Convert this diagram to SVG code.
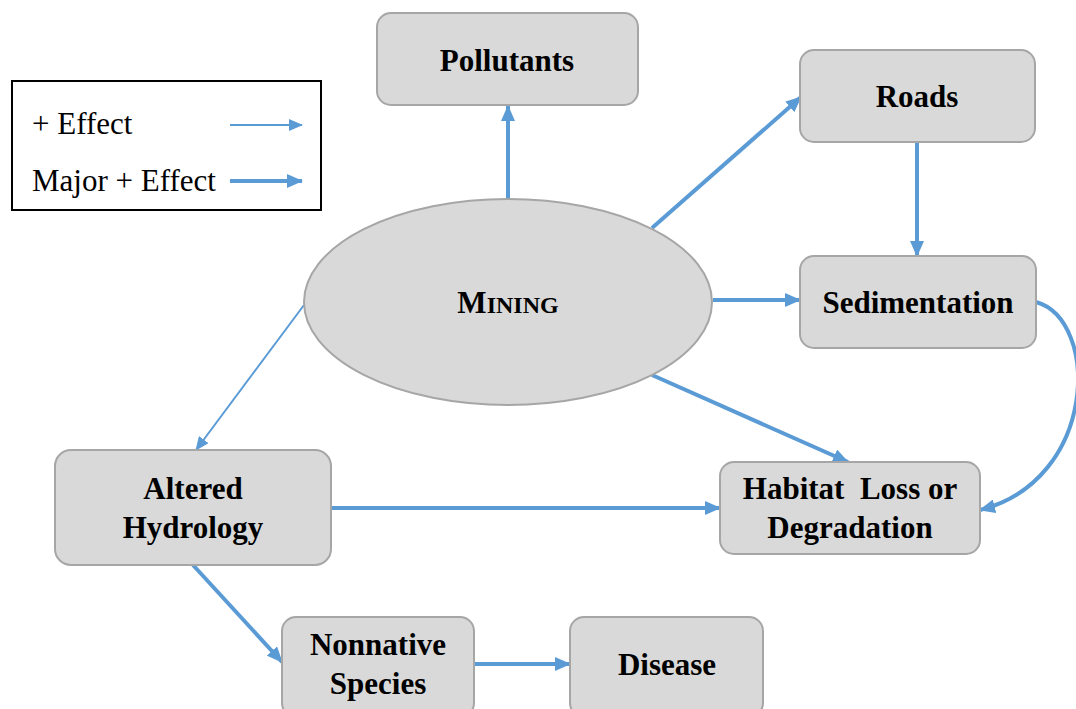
<svg xmlns="http://www.w3.org/2000/svg" width="1076" height="709" viewBox="0 0 1076 709">
  <style>
    .box { fill: #D9D9D9; stroke: #A6A6A6; stroke-width: 2; }
    .lbl { font-weight: bold; font-size: 31px; fill: #000; text-anchor: middle; }
    .leg { font-size: 31px; fill: #000; }
    .major { fill: none; stroke: #5B9BD5; stroke-width: 4; }
    .minor { fill: none; stroke: #5B9BD5; stroke-width: 2; }
  </style>
  <defs>
    <marker id="headMajor" viewBox="0 0 16 14" refX="15" refY="7" markerWidth="16" markerHeight="14" markerUnits="userSpaceOnUse" orient="auto">
      <path d="M0,0 L16,7 L0,14 Z" fill="#5B9BD5"/>
    </marker>
    <marker id="headMinor" viewBox="0 0 14 12" refX="13" refY="6" markerWidth="14" markerHeight="12" markerUnits="userSpaceOnUse" orient="auto">
      <path d="M0,0 L14,6 L0,12 Z" fill="#5B9BD5"/>
    </marker>
  </defs>

  <rect width="1076" height="709" fill="#fff"/>

  <!-- legend -->
  <g id="legend">
    <rect x="12" y="81" width="309" height="129" fill="#fff" stroke="#000" stroke-width="2"/>
    <text class="leg" font-family="Liberation Serif" x="32" y="134">+ Effect</text>
    <text class="leg" font-family="Liberation Serif" x="32" y="191">Major + Effect</text>
    <line class="minor" x1="230" y1="125" x2="302" y2="125" marker-end="url(#headMinor)"/>
    <line class="major" x1="230" y1="181" x2="302" y2="181" marker-end="url(#headMajor)"/>
  </g>

  <!-- connectors -->
  <g id="connectors">
    <line class="major" x1="508" y1="199" x2="508" y2="106" marker-end="url(#headMajor)"/>
    <line class="major" x1="652" y1="228" x2="801" y2="97" marker-end="url(#headMajor)"/>
    <line class="major" x1="917" y1="143" x2="917" y2="256" marker-end="url(#headMajor)"/>
    <line class="major" x1="713" y1="300" x2="800" y2="300" marker-end="url(#headMajor)"/>
    <line class="major" x1="652" y1="375" x2="848" y2="462" marker-end="url(#headMajor)"/>
    <line class="minor" x1="304" y1="305" x2="196" y2="450" marker-end="url(#headMinor)"/>
    <line class="major" x1="331" y1="508" x2="720" y2="508" marker-end="url(#headMajor)"/>
    <line class="major" x1="193" y1="565" x2="282" y2="662" marker-end="url(#headMajor)"/>
    <line class="major" x1="474" y1="664" x2="570" y2="664" marker-end="url(#headMajor)"/>
    <path class="major" d="M1036,302 C1100,320 1098,480 980,510" marker-end="url(#headMajor)"/>
  </g>

  <!-- nodes -->
  <g id="mining">
    <ellipse class="box" cx="508" cy="302" rx="204" ry="103"/>
    <text class="lbl" font-family="Liberation Serif" x="508" y="313">M<tspan font-size="24">INING</tspan></text>
  </g>
  <g id="pollutants">
    <rect class="box" x="377" y="13" width="261" height="92" rx="14"/>
    <text class="lbl" font-family="Liberation Serif" x="507" y="71">Pollutants</text>
  </g>
  <g id="roads">
    <rect class="box" x="800" y="50" width="235" height="92" rx="14"/>
    <text class="lbl" font-family="Liberation Serif" x="917" y="107">Roads</text>
  </g>
  <g id="sedimentation">
    <rect class="box" x="800" y="256" width="236" height="92" rx="14"/>
    <text class="lbl" font-family="Liberation Serif" x="918" y="313">Sedimentation</text>
  </g>
  <g id="altered-hydrology">
    <rect class="box" x="55" y="450" width="276" height="115" rx="16"/>
    <text class="lbl" font-family="Liberation Serif" x="193" y="499">Altered</text>
    <text class="lbl" font-family="Liberation Serif" x="193" y="538">Hydrology</text>
  </g>
  <g id="habitat-loss">
    <rect class="box" x="720" y="462" width="260" height="92" rx="14"/>
    <text class="lbl" font-family="Liberation Serif" x="850" y="499" xml:space="preserve">Habitat  Loss or</text>
    <text class="lbl" font-family="Liberation Serif" x="850" y="538">Degradation</text>
  </g>
  <g id="nonnative-species">
    <rect class="box" x="282" y="617" width="192" height="100" rx="14"/>
    <text class="lbl" font-family="Liberation Serif" x="378" y="655">Nonnative</text>
    <text class="lbl" font-family="Liberation Serif" x="378" y="694">Species</text>
  </g>
  <g id="disease">
    <rect class="box" x="570" y="617" width="193" height="100" rx="14"/>
    <text class="lbl" font-family="Liberation Serif" x="667" y="675">Disease</text>
  </g>
</svg>
